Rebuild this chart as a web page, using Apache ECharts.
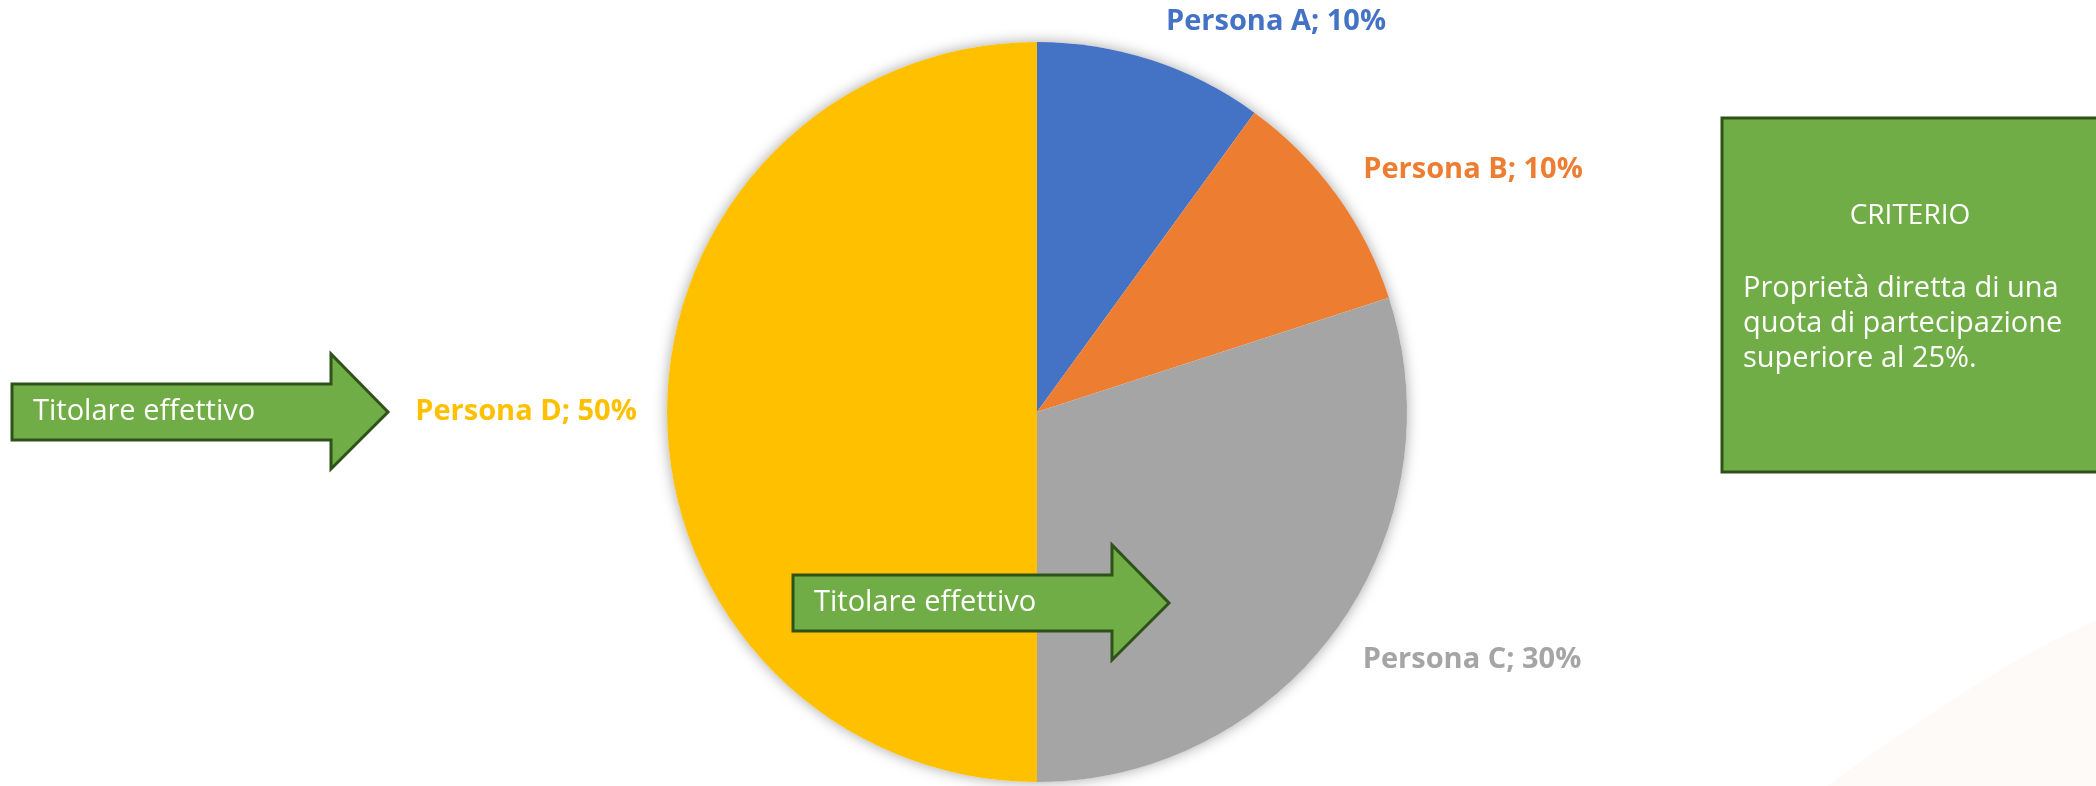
<!DOCTYPE html>
<html>
<head>
<meta charset="utf-8">
<title>Titolare effettivo</title>
<script src="https://cdn.jsdelivr.net/npm/echarts@6/dist/echarts.min.js"></script>
<style>
	html, body { margin: 0; padding: 0; background: #ffffff; }
	#quote { width: 2096px; height: 786px; }
</style>
</head>
<body>
<div id="quote"></div>
<script>
var persone = ['Persona A', 'Persona B', 'Persona C', 'Persona D'];
var quote = [10, 10, 30, 50];
var colori = ['#4472C4', '#ED7D31', '#A5A5A5', '#FFC000'];
// where Excel put each data label (center of the text)
var labelPos = [[1276, 22], [1473, 170], [1472, 660], [526, 412]];

var freccia = '#70AD47';
var bordo = '#2F5219';
var font = '"Open Sans", "Noto Sans", sans-serif';

var quote_pie = echarts.init(document.getElementById('quote'));

var dati = [];
for (var i = 0; i < persone.length; i++) {
	dati.push({
		name: persone[i],
		value: quote[i],
		itemStyle: { color: colori[i] },
		label: { color: colori[i] }
	});
}

function arrow(x, y, text) {
	// body 57 high, head 115 high, total length 376
	return {
		type: 'group',
		children: [{
			type: 'polygon',
			z: 100,
			shape: {
				points: [[x, y - 28], [x + 319, y - 28], [x + 319, y - 58], [x + 376, y],
					[x + 319, y + 57], [x + 319, y + 28], [x, y + 28]]
			},
			style: { fill: freccia, stroke: bordo, lineWidth: 3 }
		}, {
			type: 'text',
			z: 101,
			style: {
				x: x + 21, y: y, text: text, fill: '#ffffff',
				font: '29px ' + font, verticalAlign: 'middle', align: 'left'
			}
		}]
	};
}

var opt = {
	backgroundColor: '#ffffff',
	animation: false,
	graphic: [{
		type: 'polygon',
		z: -1,
		shape: {
			points: [[1827, 786], [1880, 748], [1940, 708], [2000, 670], [2050, 642], [2096, 620], [2096, 786]]
		},
		style: { fill: '#FEFAF7' }
	},
	arrow(12, 412, 'Titolare effettivo'),
	arrow(793, 603, 'Titolare effettivo'),
	{
		type: 'group',
		children: [{
			type: 'rect',
			z: 100,
			shape: { x: 1722, y: 118, width: 376, height: 354 },
			style: { fill: freccia, stroke: bordo, lineWidth: 3 }
		}, {
			type: 'text',
			z: 101,
			style: {
				x: 1910, y: 216, text: 'CRITERIO', fill: '#ffffff',
				font: '28px ' + font, align: 'center', verticalAlign: 'middle'
			}
		}, {
			type: 'text',
			z: 101,
			style: {
				x: 1743, y: 271,
				text: 'Proprietà diretta di una\nquota di partecipazione\nsuperiore al 25%.',
				fill: '#ffffff', font: '29px ' + font, lineHeight: 35,
				align: 'left', verticalAlign: 'top'
			}
		}]
	}],
	series: [{
		// whole pie underneath, only for the soft shadow
		type: 'pie',
		silent: true,
		center: [1037, 412],
		radius: 370,
		z: 1,
		label: { show: false },
		labelLine: { show: false },
		data: [{ value: 100, name: '' }],
		itemStyle: {
			color: '#ffffff',
			shadowBlur: 14,
			shadowColor: 'rgba(0, 0, 0, 0.35)'
		}
	}, {
		name: 'Quote',
		type: 'pie',
		center: [1037, 412],
		radius: 370,
		startAngle: 90,
		clockwise: true,
		z: 2,
		data: dati,
		label: {
			show: true,
			formatter: '{b}; {c}%',
			fontFamily: font,
			fontWeight: 'bold',
			fontSize: 29
		},
		labelLine: { show: false },
		labelLayout: function(p) {
			var pos = labelPos[p.dataIndex];
			return { x: pos[0], y: pos[1], align: 'center', verticalAlign: 'middle' };
		}
	}]
};
quote_pie.setOption(opt);
</script>
</body>
</html>
